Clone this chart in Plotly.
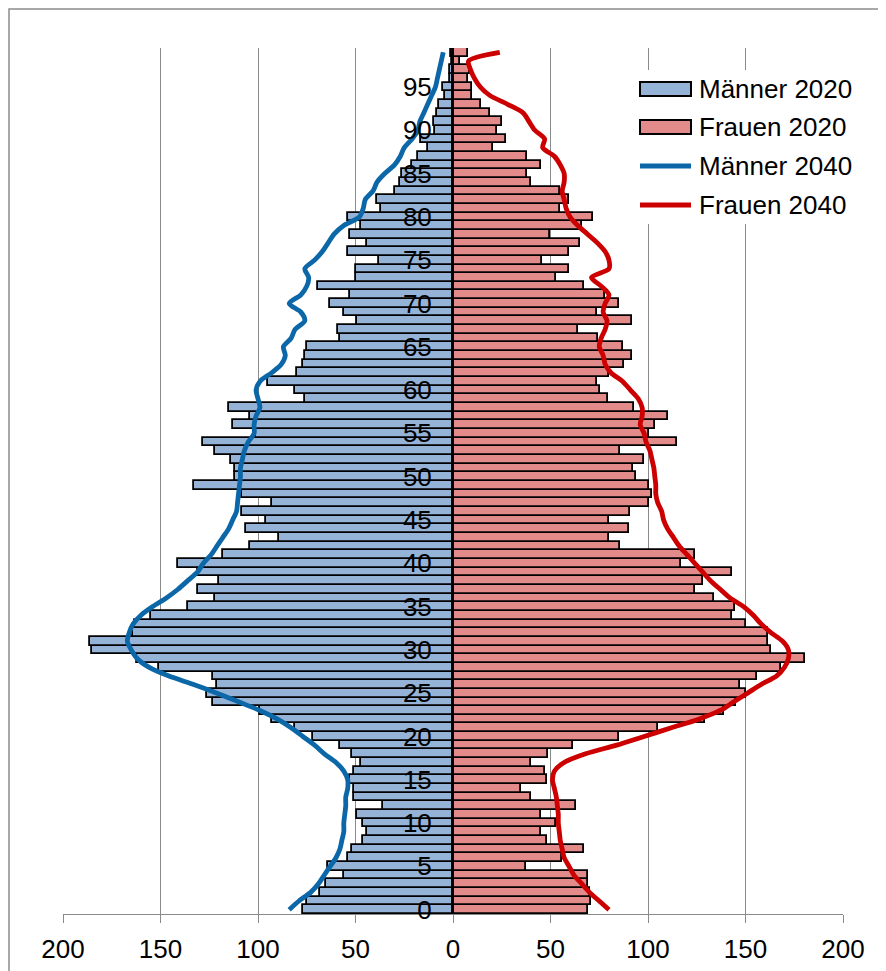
import plotly.graph_objects as go

# Altersgruppen 0..99 (Jahre)
alter = list(range(100))

# Bevölkerung 2020 (Tausend), Männer werden links (negativ) gezeichnet
maenner_2020 = [
    77, 75, 68, 65, 56, 64, 54, 52, 46, 44,
    46, 49, 36, 51, 51, 53, 51, 47, 52, 58,
    72, 81, 93, 99, 123, 126, 121, 123, 151, 162,
    185, 186, 164, 163, 155, 136, 122, 131, 120, 131,
    141, 118, 104, 89, 106, 96, 108, 93, 108, 133,
    112, 112, 114, 122, 128, 101, 113, 104, 115, 76,
    81, 95, 80, 77, 76, 75, 58, 59, 49, 56,
    63, 53, 69, 50, 50, 38, 54, 44, 53, 47,
    54, 37, 39, 30, 27, 26, 21, 18, 13, 16.5,
    9, 10, 8, 7, 4, 5, 1.5, 1.5, 0.6, 1.2,
]
frauen_2020 = [
    69, 71, 70, 69, 69, 37.5, 56, 67, 48, 45,
    53, 45, 63, 40, 35, 48, 47, 40, 48.5, 61.5,
    85, 105, 129, 139, 145, 150, 147, 156, 168, 180.5,
    163, 161.5, 161.4, 150.5, 143, 144.5, 134, 124, 128, 143,
    117, 124, 85.5, 80, 90.5, 80, 91, 100.5, 102, 100.5,
    94, 92.5, 98, 85.5, 115, 100.5, 103.5, 110, 93, 79.5,
    75.5, 74, 80, 87.5, 92, 87, 74.5, 64, 92, 74,
    85, 78, 67, 53, 59.5, 45.5, 59.5, 65, 49.5, 66,
    72, 55, 59.5, 55, 40, 38, 45, 38, 20.5, 27,
    22.5, 25, 19, 14.5, 9.5, 9.5, 7.5, 8.7, 3.8, 7.5,
]

# Vorausberechnung 2040
maenner_2040 = [
    84, 79, 73, 69, 66, 63, 60, 58, 57, 56,
    56, 55.5, 55, 55, 54, 54, 56, 60, 66, 71,
    77, 83, 90, 99, 110, 121, 133, 146, 156, 162,
    165, 167, 166, 164, 160, 154, 147, 141, 136, 131,
    128, 124, 121, 118, 115, 113, 111, 110.5, 110, 109.5,
    109, 109, 108, 107, 105, 102, 102, 101, 99, 100,
    101, 99, 93, 88, 86, 87, 83, 81, 76, 78,
    84, 78, 75, 74, 76, 71, 67, 64, 61, 56,
    48, 46, 45, 41, 39, 35, 30, 27, 25, 21,
    18, 17, 15, 13, 11, 9, 8, 7, 6, 5,
]
frauen_2040 = [
    80, 75, 70, 66, 62, 59.5, 57, 56, 55, 54.5,
    54, 54, 53.5, 53, 52, 51, 52, 57, 68, 84,
    98, 112, 126, 137, 144, 151, 158, 166, 170, 172,
    172, 169, 163, 158, 154, 149, 142, 137, 132, 128,
    124, 120, 116, 113, 110, 108, 107, 105, 104, 104,
    103.5, 103, 102, 101, 99, 98, 96, 97, 97, 95,
    91, 87, 81, 78, 77, 75, 76, 78, 79, 77,
    78, 80, 76, 71, 80, 80, 78, 74, 69, 64,
    60, 58, 57, 56, 57, 57, 55, 52, 46, 47,
    42, 39, 36, 28, 19, 14, 11, 9, 8, 24,
]

x_ticks = [-200, -150, -100, -50, 0, 50, 100, 150, 200]
x_ticklabels = [str(abs(v)) for v in x_ticks]
alter_ticks = list(range(0, 100, 5))

FONT = "Arial, Liberation Sans, sans-serif"
BLAU_HELL = '#95b3d7'
ROT_HELL = '#e38a8a'
BLAU = '#0b67a7'
ROT = '#cc0000'

# die Seite hat 8px Rand, daher ist die Grafik etwas kleiner
OFF = 8
W, H = 886 - OFF, 971 - OFF
# Plotfläche in Bildschirm-Pixeln
L, R, T, B = 63, 843, 48, 914


def px(xp):
    return (xp - L) / (R - L)


def py(yp):
    return (B - yp) / (B - T)


fig = go.Figure()

fig.add_trace(go.Bar(
    y=alter, x=[-v for v in maenner_2020], orientation='h',
    name='Männer 2020',
    marker=dict(color=BLAU_HELL, line=dict(color='black', width=1.8))
))
fig.add_trace(go.Bar(
    y=alter, x=frauen_2020, orientation='h',
    name='Frauen 2020',
    marker=dict(color=ROT_HELL, line=dict(color='black', width=1.8))
))
fig.add_trace(go.Scatter(
    y=alter, x=[-v for v in maenner_2040], mode='lines',
    name='Männer 2040',
    line=dict(color=BLAU, width=4.8, shape='spline', smoothing=0.8)
))
fig.add_trace(go.Scatter(
    y=alter, x=frauen_2040, mode='lines',
    name='Frauen 2040',
    line=dict(color=ROT, width=4.8, shape='spline', smoothing=0.8)
))

fig.update_layout(
    width=W,
    height=H,
    margin=dict(l=L - OFF, r=W - (R - OFF), t=T - OFF, b=H - (B - OFF),
                autoexpand=False),
    paper_bgcolor='white',
    plot_bgcolor='white',
    barmode='overlay',
    bargap=0,
    showlegend=False,
    font=dict(family=FONT, size=26, color='black'),
    xaxis=dict(
        range=[-200, 200],
        tickvals=x_ticks,
        ticktext=x_ticklabels,
        showgrid=True,
        gridcolor='#8a8a8a',
        gridwidth=1,
        zeroline=False,
        showline=True,
        linecolor='#8a8a8a',
        linewidth=1,
        ticks='outside',
        ticklen=8,
        tickcolor='#8a8a8a',
        ticklabelstandoff=4,
        automargin=False,
        tickfont=dict(family=FONT, size=26, color='black'),
    ),
    yaxis=dict(
        range=[-0.5, 99.5],
        tickvals=alter_ticks,
        showgrid=False,
        zeroline=False,
        showline=True,
        linecolor='black',
        linewidth=1,
        anchor='free',
        position=0.5,
        ticks='',
        ticklabelstandoff=16,
        automargin=False,
        tickfont=dict(family=FONT, size=26, color='black'),
    ),
)

# Rahmen des Diagrammbereichs (rechts und unten abgeschnitten)
fig.add_shape(
    type='rect', xref='paper', yref='paper',
    x0=px(OFF + 1), x1=px(900), y0=py(985), y1=py(OFF + 1),
    line=dict(color='#8c8c8c', width=1.5),
    fillcolor='rgba(0,0,0,0)', layer='below'
)

# Legende wie im Original: breite Farbfelder und Linien
fig.add_shape(
    type='rect', xref='paper', yref='paper',
    x0=px(630), x1=px(866), y0=py(224), y1=py(70),
    line=dict(width=0), fillcolor='white', layer='above'
)
legende = [
    ('Männer 2020', 'bar', BLAU_HELL, 89),
    ('Frauen 2020', 'bar', ROT_HELL, 127),
    ('Männer 2040', 'line', BLAU, 166),
    ('Frauen 2040', 'line', ROT, 205),
]
for text, art, farbe, yc in legende:
    if art == 'bar':
        fig.add_shape(
            type='rect', xref='paper', yref='paper',
            x0=px(640), x1=px(691), y0=py(yc + 7), y1=py(yc - 7),
            line=dict(color='black', width=2), fillcolor=farbe, layer='above'
        )
    else:
        fig.add_shape(
            type='line', xref='paper', yref='paper',
            x0=px(640), x1=px(691), y0=py(yc), y1=py(yc),
            line=dict(color=farbe, width=5), layer='above'
        )
    fig.add_annotation(
        x=px(697), y=py(yc), xref='paper', yref='paper',
        text=text, showarrow=False, xanchor='left', yanchor='middle',
        font=dict(family=FONT, size=26, color='black')
    )

fig.write_html("out.html")
